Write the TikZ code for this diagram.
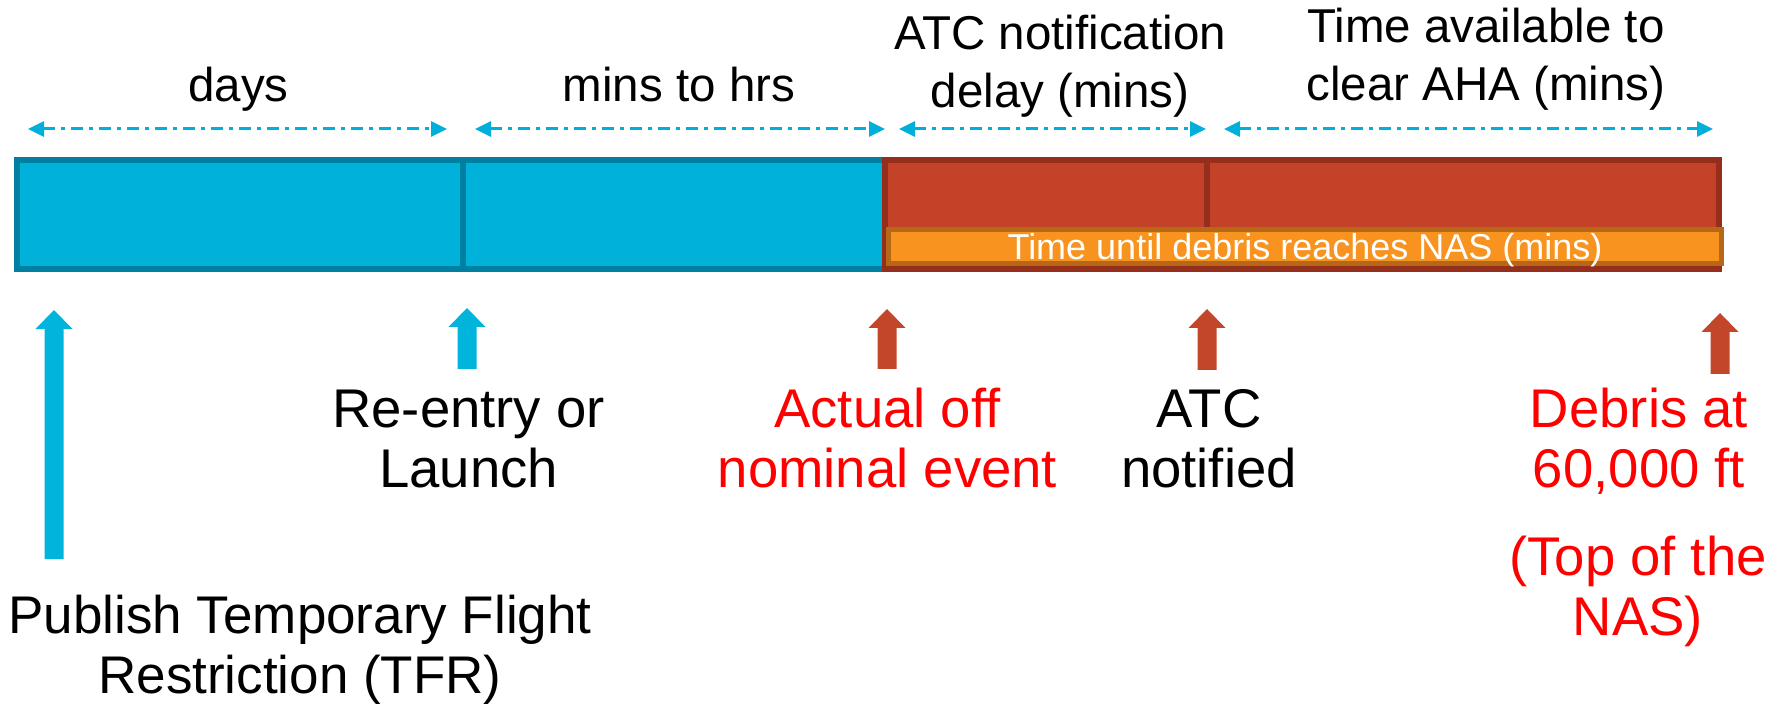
\documentclass[tikz,border=0pt]{standalone}
\usepackage{fontspec}
\setmainfont{Liberation Sans}
\usetikzlibrary{arrows.meta}

\definecolor{segblue}{RGB}{0,178,218}
\definecolor{segblueedge}{RGB}{0,128,160}
\definecolor{segred}{RGB}{196,67,40}
\definecolor{segrededge}{RGB}{150,46,28}
\definecolor{nasorange}{RGB}{247,147,30}
\definecolor{nasorangeedge}{RGB}{182,104,22}
\definecolor{spanblue}{RGB}{0,176,218}
\definecolor{eventred}{RGB}{255,0,0}
\definecolor{markblue}{RGB}{0,180,220}
\definecolor{markred}{RGB}{196,70,42}

% block arrow pointing up: #1 = x, #2 = tip y, #3 = bottom y, #4 = colour
\newcommand\eventmark[4]{%
  \fill[#4] (#1-9.5,#3) -- (#1-9.5,#2+19) -- (#1-18.5,#2+19) -- (#1,#2)
    -- (#1+18.5,#2+19) -- (#1+9.5,#2+19) -- (#1+9.5,#3) -- cycle;}

% multi-line labels are placed by the baseline of their last line
\tikzset{
  span/.style={spanblue, line width=3pt,
    dash pattern=on 12pt off 6pt on 4pt off 6pt,
    arrows={Triangle[length=16pt,width=15pt]-Triangle[length=16pt,width=15pt]}},
  bluebox/.style={fill=segblue, draw=segblueedge, line width=6pt},
  redbox/.style={fill=segred, draw=segrededge, line width=6pt},
  orangebox/.style={fill=nasorange, draw=nasorangeedge, line width=5pt},
  toplabel/.style={font=\fontsize{47.5}{58}\selectfont, align=center,
    anchor=base, inner sep=0pt},
  eventlabel/.style={font=\fontsize{54.5}{60}\selectfont, align=center,
    anchor=base, inner sep=0pt},
  barlabel/.style={font=\fontsize{36}{40}\selectfont, text=white,
    anchor=base, inner sep=0pt},
}

\begin{document}
\begin{tikzpicture}[x=1pt,y=-1pt]
\useasboundingbox (0,0) rectangle (1781,708);

% timeline segments
\draw[bluebox] (17,160) rectangle (463,269);
\draw[bluebox] (463,160) rectangle (885,269);
\draw[redbox] (885,160) rectangle (1207,269);
\draw[redbox] (1207,160) rectangle (1719,269);
\draw[orangebox] (888.5,229.5) rectangle (1721.5,263.5);
\node[barlabel] (nastime) at (1305,260) {Time until debris reaches NAS (mins)};

% interval spans above the bar
\coordinate (s1a) at (28,129);   \coordinate (s1b) at (447,129);
\coordinate (s2a) at (475,129);  \coordinate (s2b) at (885,129);
\coordinate (s3a) at (899,129);  \coordinate (s3b) at (1206,129);
\coordinate (s4a) at (1224,129); \coordinate (s4b) at (1713,129);
\draw[span] (s1a) -- (s1b);
\draw[span] (s2a) -- (s2b);
\draw[span] (s3a) -- (s3b);
\draw[span] (s4a) -- (s4b);

\node[toplabel] (days) at (238.5,102) {days};
\node[toplabel] (minshrs) at (679,102) {mins to hrs};
\node[toplabel] (atcdelay) at (1060,108) {ATC notification\\delay (mins)};
\node[toplabel] (clearaha) at (1486,101) {Time available to\\clear AHA (mins)};

% event markers below the bar
\eventmark{54}{310}{559}{markblue}
\eventmark{467}{308}{369}{markblue}
\eventmark{887}{309}{369}{markred}
\eventmark{1207}{309}{370}{markred}
\eventmark{1720}{313}{374}{markred}

\node[eventlabel, font=\fontsize{53}{60}\selectfont] (publish) at (300,693)
  {Publish Temporary Flight\\Restriction (TFR)};
\node[eventlabel] (reentry) at (468.5,487) {Re-entry or\\Launch};
\node[eventlabel, text=eventred] (offnominal) at (887.5,487) {Actual off\\nominal event};
\node[eventlabel] (atcnotified) at (1209,487) {ATC\\notified};
\node[eventlabel, text=eventred] (debris) at (1639,487) {Debris at\\60,000 ft};
\node[eventlabel, text=eventred] (topnas) at (1638,635) {(Top of the\\NAS)};
\end{tikzpicture}
\end{document}
